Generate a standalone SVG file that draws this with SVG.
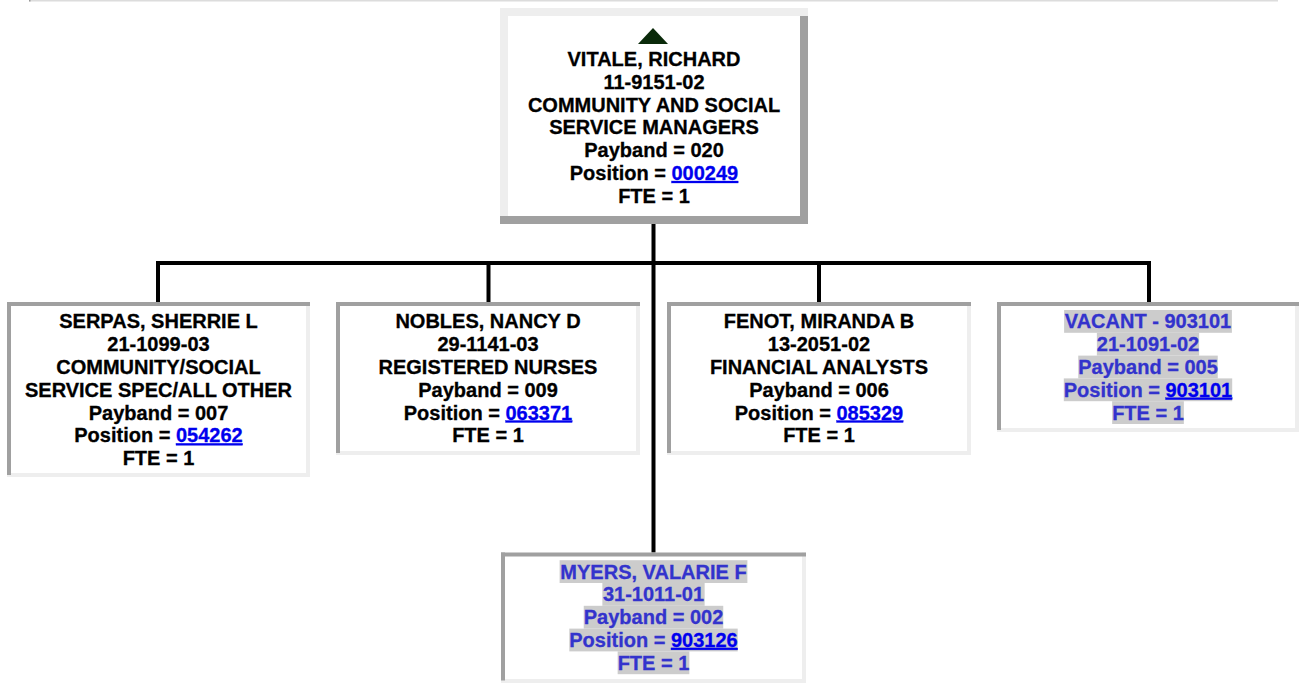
<svg xmlns="http://www.w3.org/2000/svg" width="1299" height="683" viewBox="0 0 1299 683">
<style>
text{font-family:"Liberation Sans",Arial,Helvetica,sans-serif;font-weight:bold;font-size:20px;text-anchor:middle;fill:#000;stroke:#000;stroke-width:0.3}
.vac text{fill:#3333cc;stroke:#3333cc}
.lnk{fill:#0000ee;stroke:#0000ee;text-decoration:underline}
.vac text .lnk{fill:#0000ee;stroke:#0000ee}
.hl{fill:#cccccc}
.dk{fill:#a0a0a0}
.lt{fill:#eeeeee}
.bg{fill:#ffffff}
.conn{stroke:#000;stroke-width:4;fill:none;stroke-linecap:square}
</style>
<rect x="0" y="0" width="1299" height="683" fill="#fff"/>
<rect x="29" y="0" width="1249" height="1.5" fill="#dcdcdc"/>
<rect x="29" y="0" width="1.5" height="1.5" fill="#999"/>

<g id="connectors">
<line class="conn" x1="653.5" y1="226" x2="653.5" y2="551"/>
<line class="conn" x1="158" y1="263" x2="1149" y2="263"/>
<line class="conn" x1="158" y1="263" x2="158" y2="301"/>
<line class="conn" x1="488.5" y1="263" x2="488.5" y2="301"/>
<line class="conn" x1="819" y1="263" x2="819" y2="301"/>
<line class="conn" x1="1149" y1="263" x2="1149" y2="301"/>
</g>

<g id="node-vitale">
<rect class="bg" x="500" y="8" width="308" height="216"/>
<rect class="lt" x="500" y="8" width="308" height="8"/>
<rect class="lt" x="500" y="16" width="8" height="200"/>
<rect class="dk" x="800" y="16" width="8" height="208"/>
<rect class="dk" x="500" y="216" width="308" height="8"/>
<polygon points="638,44 668,44 653,28" fill="#0a2a0a"/>
<text x="654" y="66">VITALE, RICHARD</text>
<text x="654" y="88.8">11-9151-02</text>
<text x="654" y="111.6">COMMUNITY AND SOCIAL</text>
<text x="654" y="134.4">SERVICE MANAGERS</text>
<text x="654" y="157.2">Payband = 020</text>
<text x="654" y="180">Position = <tspan class="lnk">000249</tspan></text>
<text x="654" y="202.8">FTE = 1</text>
</g>

<g id="node-serpas">
<rect class="bg" x="7" y="302" width="303" height="175"/>
<rect class="lt" x="7" y="473" width="303" height="4"/>
<rect class="lt" x="306" y="302" width="4" height="175"/>
<rect class="dk" x="7" y="302" width="303" height="4"/>
<rect class="dk" x="7" y="302" width="4" height="173"/>
<text x="158.5" y="328.3">SERPAS, SHERRIE L</text>
<text x="158.5" y="351.1">21-1099-03</text>
<text x="158.5" y="373.9">COMMUNITY/SOCIAL</text>
<text x="158.5" y="396.7">SERVICE SPEC/ALL OTHER</text>
<text x="158.5" y="419.5">Payband = 007</text>
<text x="158.5" y="442.3">Position = <tspan class="lnk">054262</tspan></text>
<text x="158.5" y="465.1">FTE = 1</text>
</g>

<g id="node-nobles">
<rect class="bg" x="336" y="302" width="304" height="153"/>
<rect class="lt" x="336" y="451" width="304" height="4"/>
<rect class="lt" x="636" y="302" width="4" height="153"/>
<rect class="dk" x="336" y="302" width="304" height="4"/>
<rect class="dk" x="336" y="302" width="4" height="151"/>
<text x="488" y="328.3">NOBLES, NANCY D</text>
<text x="488" y="351.1">29-1141-03</text>
<text x="488" y="373.9">REGISTERED NURSES</text>
<text x="488" y="396.7">Payband = 009</text>
<text x="488" y="419.5">Position = <tspan class="lnk">063371</tspan></text>
<text x="488" y="442.3">FTE = 1</text>
</g>

<g id="node-fenot">
<rect class="bg" x="667" y="302" width="304" height="153"/>
<rect class="lt" x="667" y="451" width="304" height="4"/>
<rect class="lt" x="967" y="302" width="4" height="153"/>
<rect class="dk" x="667" y="302" width="304" height="4"/>
<rect class="dk" x="667" y="302" width="4" height="151"/>
<text x="819" y="328.3">FENOT, MIRANDA B</text>
<text x="819" y="351.1">13-2051-02</text>
<text x="819" y="373.9">FINANCIAL ANALYSTS</text>
<text x="819" y="396.7">Payband = 006</text>
<text x="819" y="419.5">Position = <tspan class="lnk">085329</tspan></text>
<text x="819" y="442.3">FTE = 1</text>
</g>

<g id="node-vacant" class="vac">
<rect class="bg" x="997" y="302" width="302" height="130"/>
<rect class="lt" x="997" y="428" width="302" height="4"/>
<rect class="lt" x="1295" y="302" width="4" height="130"/>
<rect class="dk" x="997" y="302" width="302" height="4"/>
<rect class="dk" x="997" y="302" width="4" height="128"/>
<rect class="hl" x="1064.1" y="310" width="167.8" height="22.8"/>
<rect class="hl" x="1096.85" y="332.8" width="102.3" height="22.8"/>
<rect class="hl" x="1078.25" y="355.6" width="139.5" height="22.8"/>
<rect class="hl" x="1063.8" y="378.4" width="168.4" height="22.8"/>
<rect class="hl" x="1112.15" y="401.2" width="71.7" height="22.8"/>
<text x="1148" y="328.3">VACANT - 903101</text>
<text x="1148" y="351.1">21-1091-02</text>
<text x="1148" y="373.9">Payband = 005</text>
<text x="1148" y="396.7">Position = <tspan class="lnk">903101</tspan></text>
<text x="1148" y="419.5">FTE = 1</text>
</g>

<g id="node-myers" class="vac">
<rect class="bg" x="501" y="552.5" width="305" height="130.5"/>
<rect class="lt" x="501" y="679" width="305" height="4"/>
<rect class="lt" x="802" y="552.5" width="4" height="130.5"/>
<rect class="dk" x="501" y="552.5" width="305" height="4"/>
<rect class="dk" x="501" y="552.5" width="4" height="128"/>
<rect class="hl" x="559.6" y="560.2" width="187.8" height="22.8"/>
<rect class="hl" x="602.35" y="583" width="102.3" height="22.8"/>
<rect class="hl" x="583.75" y="605.8" width="139.5" height="22.8"/>
<rect class="hl" x="569.3" y="628.6" width="168.4" height="22.8"/>
<rect class="hl" x="617.65" y="651.4" width="71.7" height="22.8"/>
<text x="653.5" y="578.5">MYERS, VALARIE F</text>
<text x="653.5" y="601.3">31-1011-01</text>
<text x="653.5" y="624.1">Payband = 002</text>
<text x="653.5" y="646.9">Position = <tspan class="lnk">903126</tspan></text>
<text x="653.5" y="669.7">FTE = 1</text>
</g>
</svg>
